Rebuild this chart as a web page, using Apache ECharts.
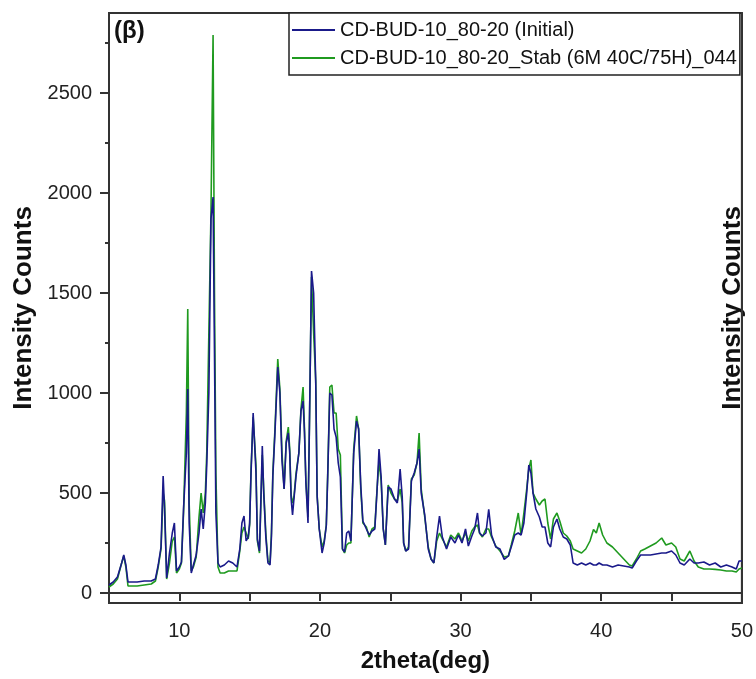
<!DOCTYPE html>
<html><head><meta charset="utf-8">
<script src="https://cdn.jsdelivr.net/npm/echarts@6/dist/echarts.min.js"></script>
<style>html,body{margin:0;padding:0;background:#fff}#c{width:756px;height:679px}</style>
</head><body><div id="c"></div>
<script>
const twoTheta = [5.0,5.3,5.6,5.9,6.05,6.2,6.35,6.6,7.0,7.5,8.0,8.3,8.5,8.7,8.85,8.95,9.1,9.3,9.5,9.65,9.8,10.0,10.15,10.3,10.5,10.6,10.7,10.85,11.0,11.2,11.4,11.55,11.7,11.85,11.95,12.1,12.25,12.4,12.5,12.6,12.75,12.9,13.2,13.5,13.8,14.1,14.3,14.45,14.6,14.75,14.9,15.0,15.1,15.25,15.45,15.55,15.7,15.9,16.0,16.15,16.3,16.45,16.55,16.65,16.8,17.0,17.15,17.3,17.45,17.6,17.75,17.85,17.95,18.05,18.15,18.3,18.5,18.65,18.8,18.9,19.0,19.15,19.25,19.4,19.55,19.7,19.8,19.95,20.15,20.3,20.45,20.55,20.7,20.85,21.0,21.15,21.3,21.45,21.6,21.75,21.9,22.05,22.2,22.4,22.6,22.75,22.9,23.05,23.3,23.5,23.7,23.9,24.05,24.2,24.35,24.5,24.65,24.85,25.05,25.3,25.5,25.7,25.85,25.95,26.1,26.3,26.5,26.7,26.9,27.05,27.2,27.45,27.7,27.9,28.1,28.3,28.5,28.7,29.0,29.3,29.6,29.85,30.1,30.35,30.55,30.8,31.0,31.2,31.35,31.55,31.8,32.0,32.2,32.5,32.8,33.1,33.4,33.6,33.85,34.1,34.3,34.5,34.7,34.85,35.0,35.15,35.35,35.6,35.8,36.0,36.2,36.4,36.6,36.85,37.05,37.3,37.55,37.8,38.0,38.3,38.6,38.9,39.2,39.45,39.65,39.85,40.1,40.4,40.8,41.2,41.6,42.0,42.2,42.5,42.8,43.1,43.5,43.9,44.3,44.6,45.0,45.3,45.6,45.9,46.3,46.6,46.9,47.3,47.7,48.1,48.5,48.9,49.3,49.6,49.8,50.0];
const initial = [40,55,80,150,190,140,55,55,55,60,60,70,140,230,585,420,75,200,300,350,110,130,155,420,700,1020,350,100,140,190,300,420,320,450,640,1000,1870,1980,1200,400,150,130,140,160,150,130,220,350,385,260,280,350,600,900,600,270,210,735,500,280,150,140,280,585,800,1130,1000,660,520,750,800,700,470,390,470,585,700,910,960,800,550,350,830,1610,1500,1050,480,320,200,250,335,580,1000,990,820,780,650,580,220,205,300,310,260,700,860,820,540,360,320,290,310,320,500,720,580,320,240,530,520,470,450,620,480,250,210,220,560,600,650,720,500,390,220,170,150,280,385,280,220,280,250,290,250,320,235,285,320,400,300,285,300,418,290,230,220,168,185,230,290,300,290,350,500,640,600,500,420,380,330,330,250,230,330,370,320,280,270,240,150,140,150,140,150,140,140,150,140,140,130,140,135,130,125,160,190,190,190,195,200,200,210,190,150,140,170,150,150,155,140,150,130,140,130,120,160,160];
const stab = [30,45,70,150,185,130,35,35,35,40,45,60,130,220,500,460,70,150,260,280,100,120,150,400,900,1420,450,110,130,180,380,500,400,500,700,1300,1900,2790,1500,600,130,100,100,110,110,110,210,300,330,300,270,340,620,880,640,260,200,690,520,300,160,150,300,600,820,1170,1020,700,520,760,830,720,490,450,480,600,700,920,1030,820,560,380,840,1580,1300,1060,490,320,230,260,340,590,1030,1040,900,900,720,690,220,200,240,250,250,720,885,820,520,350,330,280,320,330,510,660,560,320,240,540,500,470,460,520,450,250,210,230,570,590,650,800,520,380,230,170,150,260,300,270,230,290,270,300,260,300,260,310,330,340,300,280,320,320,280,235,210,180,185,240,310,400,290,400,520,620,665,500,470,440,460,470,350,270,370,400,360,300,285,260,220,210,200,220,260,318,300,350,290,250,230,200,170,140,135,170,210,220,235,250,275,240,250,230,170,160,210,160,130,120,120,118,115,110,110,105,120,125];
const seriesNames = ['CD-BUD-10_80-20 (Initial)','CD-BUD-10_80-20_Stab (6M 40C/75H)_044'];
const yMajorTicks = [0,500,1000,1500,2000,2500];
const yMinorTicks = [250,750,1250,1750,2250,2750];

const FONT = '"Liberation Sans", Arial, sans-serif';
const pairs = ys => twoTheta.map((x,i)=>[x, ys[i]]);
const chart = echarts.init(document.getElementById('c'), null, {renderer:'canvas'});
const yCommon = {type:'value', min:-50, max:2900, splitLine:{show:false}};
chart.setOption({
  animation:false,
  backgroundColor:'#fff',
  title:{text:'(β)', left:109, top:14, textStyle:{fontFamily:FONT, fontWeight:'bold', fontSize:24, color:'#111'}},
  legend:{
    orient:'vertical', left:289, top:13, width:454,
    borderColor:'#222', borderWidth:1.5, borderRadius:0,
    padding:[6,3,6,3], itemGap:6, itemWidth:43, itemHeight:2, icon:'rect',
    backgroundColor:'#fff',
    textStyle:{fontFamily:FONT, fontSize:20, color:'#111', lineHeight:22, padding:[0,0,0,0]},
    data:seriesNames
  },
  grid:{left:109, right:12, top:13, bottom:76, show:true, borderColor:'#333', borderWidth:2},
  xAxis:{
    type:'value', min:5, max:50, interval:5,
    name:'2theta(deg)', nameLocation:'middle', nameGap:46,
    nameTextStyle:{fontFamily:FONT, fontWeight:'bold', fontSize:24, color:'#111'},
    axisLine:{lineStyle:{color:'#333', width:2}},
    axisTick:{show:true, length:8, lineStyle:{color:'#333', width:2}},
    axisLabel:{fontFamily:FONT, fontSize:20, color:'#222', margin:18, formatter:v=> (v%10===0? String(v):'')},
    splitLine:{show:false}
  },
  yAxis:[
    Object.assign({}, yCommon, {
      position:'left',
      name:'Intensity Counts', nameLocation:'middle', nameGap:72, nameRotate:90,
      nameTextStyle:{fontFamily:FONT, fontWeight:'bold', fontSize:26, color:'#111'},
      axisLine:{show:true, lineStyle:{color:'#333', width:2}},
      axisTick:{show:true, length:9, lineStyle:{color:'#333', width:2}, customValues:yMajorTicks},
      axisLabel:{fontFamily:FONT, fontSize:20, color:'#222', margin:17, customValues:yMajorTicks, formatter:v=>String(v)}
    }),
    Object.assign({}, yCommon, {
      position:'left',
      axisLine:{show:false},
      axisTick:{show:true, length:4, lineStyle:{color:'#333', width:2}, customValues:yMinorTicks},
      axisLabel:{show:false}
    }),
    Object.assign({}, yCommon, {
      position:'right',
      name:'Intensity Counts', nameLocation:'middle', nameGap:-22, nameRotate:90,
      nameTextStyle:{fontFamily:FONT, fontWeight:'bold', fontSize:26, color:'#111'},
      axisLine:{show:true, lineStyle:{color:'#333', width:2}},
      axisTick:{show:false}, axisLabel:{show:false}
    })
  ],
  series:[
    {name:seriesNames[1], type:'line', data:pairs(stab), showSymbol:false, symbol:'none', z:2,
     color:'#1f9a1f', lineStyle:{color:'#1f9a1f', width:1.6}},
    {name:seriesNames[0], type:'line', data:pairs(initial), showSymbol:false, symbol:'none', z:3,
     color:'#1a1a8a', lineStyle:{color:'#1a1a8a', width:1.6}}
  ]
});
</script></body></html>
